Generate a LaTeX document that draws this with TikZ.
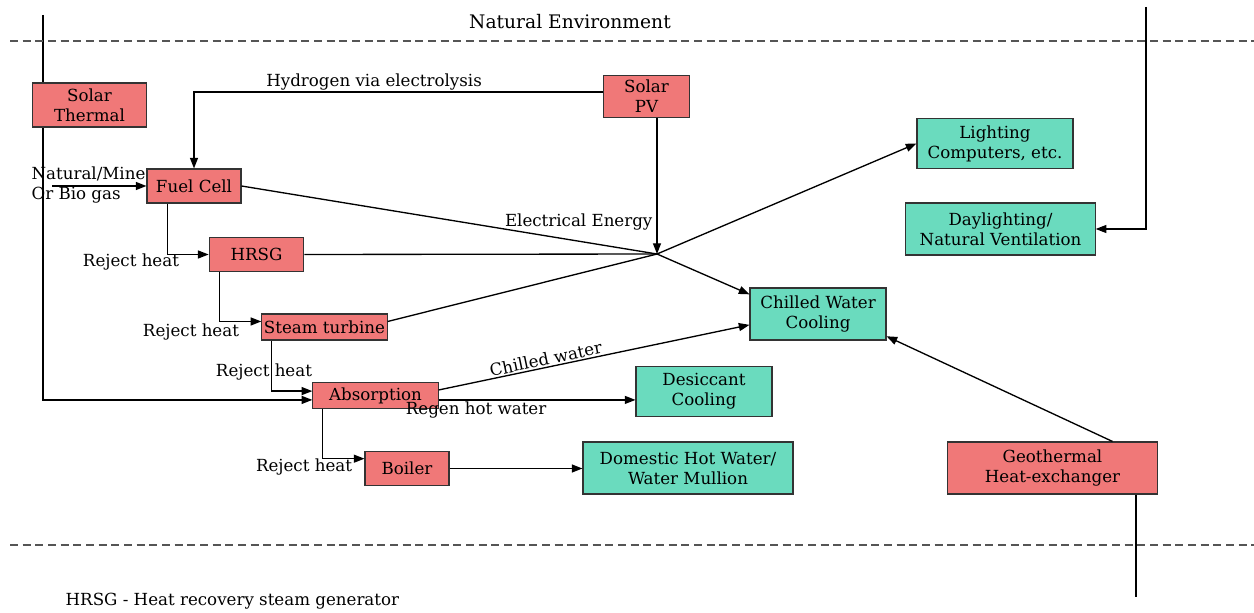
\documentclass[tikz,border=0pt]{standalone}
\usepackage{fontspec}
\setmainfont{DejaVu Serif}
\usetikzlibrary{arrows.meta,calc,backgrounds}
\definecolor{sourcered}{HTML}{F07878}
\definecolor{useteal}{HTML}{6ADBBE}
\definecolor{edgegrey}{HTML}{333333}
\definecolor{dashgrey}{HTML}{555555}

\begin{document}
\begin{tikzpicture}[
  x=0.75pt, y=-0.75pt,
  font=\fontsize{12.5}{15}\selectfont,
  >={Triangle[length=8pt,width=6pt]},
  unitbox/.style={rectangle, draw=edgegrey, line width=0.8pt, align=center, inner sep=1pt},
  srcbox/.style={unitbox, fill=sourcered},
  endbox/.style={unitbox, fill=useteal},
  flow/.style={line width=1pt},
  boundary/.style={draw=dashgrey, line width=0.9pt, dash pattern=on 6pt off 3.5pt},
  lbl/.style={inner sep=1pt}
]

\useasboundingbox (0,0) rectangle (1254,613);

% building boundary, outside world above and below
\draw[boundary] (10,41) -- (1254,41);
\draw[boundary] (10,545) -- (1254,545);
\node[font=\fontsize{14}{16}\selectfont] (envlabel) at (570,22) {Natural Environment};
\node[anchor=west] (hrsgnote) at (61,601) {HRSG - Heat recovery steam generator};

% supply side (red)
\node[srcbox, minimum width=86pt, minimum height=33pt] (soltherm) at (89.5,105) {Solar\\Thermal};
\node[srcbox, minimum width=64pt, minimum height=32pt] (solpv) at (646.5,96.5) {Solar\\PV};
\node[srcbox, minimum width=70.5pt, minimum height=25.5pt] (fuelcell) at (194,186) {Fuel Cell};
\node[srcbox, minimum width=71pt, minimum height=26pt] (hrsg) at (256.5,254.5) {HRSG};
\node[srcbox, minimum width=94pt, minimum height=19.5pt] (steam) at (324.5,327) {Steam turbine};
\node[srcbox, minimum width=94pt, minimum height=19pt] (absorp) at (375.5,395.5) {Absorption};
\node[srcbox, minimum width=63pt, minimum height=26pt] (boiler) at (407,468.5) {Boiler};
\node[srcbox, minimum width=157pt, minimum height=39pt] (geo) at (1052.5,468) {Geothermal\\Heat-exchanger};

% demand side (teal)
\node[endbox, minimum width=117pt, minimum height=38pt] (lighting) at (995,143.5) {Lighting\\Computers, etc.};
\node[endbox, minimum width=142pt, minimum height=39pt] (daylight) at (1000.5,229) {Daylighting/\\Natural Ventilation};
\node[endbox, minimum width=102pt, minimum height=39pt] (chilled) at (818,314) {Chilled Water\\Cooling};
\node[endbox, minimum width=102pt, minimum height=38pt] (desicc) at (704,391.5) {Desiccant\\Cooling};
\node[endbox, minimum width=157.5pt, minimum height=39pt] (dhw) at (688,468) {Domestic Hot Water/\\Water Mullion};

% free ends
\coordinate (hub) at (657,254);
\coordinate (sun) at (43,15);
\coordinate (sky) at (1146,7);
\coordinate (ground) at (1136,597);
\coordinate (gasin) at (52,186);

% solar thermal runs behind its box down to absorption
\begin{scope}[on background layer]
\draw[flow,->] (sun) |- (absorp.184);
\end{scope}

% fuel input
\draw[flow,->] (gasin) -- (fuelcell.west);
\node[anchor=west, align=left, lbl] (gaslabel) at (30,185) {Natural/Mine\\Or Bio gas};

% hydrogen and electricity
\draw[flow,->] (solpv.174) -| (fuelcell.north) node[pos=0.28, above, lbl] {Hydrogen via electrolysis};
\draw[flow,->] (solpv.south -| hub) -- (hub);
\node[anchor=base east, lbl] (elecenergy) at (654,227) {Electrical Energy};
\draw[flow,->] (fuelcell.east) -- (hub) -- (chilled.164);
\draw[flow] (hrsg.east) -- (hub);
\draw[flow,->] (steam.5) -- (hub) -- (lighting.west);

% reject heat cascade
\draw[flow,->] ($(fuelcell.south west)+(21,0)$) |- (hrsg.west);
\node[lbl] (rejhrsg) at (131,262) {Reject heat};
\draw[flow,->] ($(hrsg.south west)+(11,0)$) |- (steam.175);
\node[lbl] (rejsteam) at (191,332) {Reject heat};
\draw[flow,->] ($(steam.south west)+(10,0)$) |- (absorp.176);
\node[lbl] (rejabs) at (264,372) {Reject heat};
\draw[flow,->] ($(absorp.south west)+(10,0)$) |- (boiler.167);
\node[lbl] (rejboil) at (304,467) {Reject heat};

% absorption and boiler outputs
\draw[flow,->] (absorp.5) -- (chilled.189) node[pos=0.35, sloped, above, lbl] {Chilled water};
\draw[flow,->] (absorp.356) -- (absorp.356 -| desicc.west) node[pos=0.19, below, lbl] {Regen hot water};
\draw[flow,->] (boiler.east) -- (boiler.east -| dhw.west);

% geothermal and daylight
\draw[flow,->] ($(geo.north)+(60,0)$) -- (chilled.342);
\draw[flow] (geo.south -| ground) -- (ground);
\draw[flow,->] (sky) |- (daylight.east);

\end{tikzpicture}
\end{document}
